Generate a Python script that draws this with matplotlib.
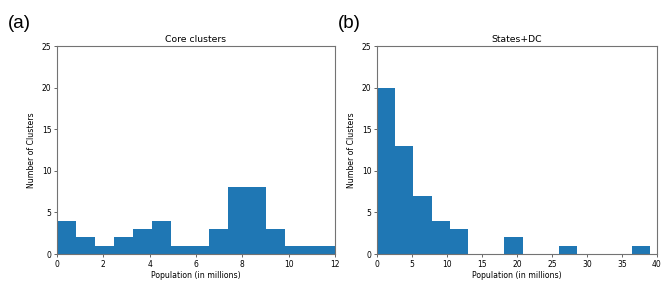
import matplotlib.pyplot as plt
import numpy as np

plt.rcParams['font.family'] = ['DejaVu Sans']

# Histogram counts (15 bins each)
core_counts = [4, 2, 1, 2, 3, 4, 1, 1, 3, 8, 8, 3, 1, 1, 1]
core_range = (0, 12.3)
states_counts = [20, 13, 7, 4, 3, 0, 0, 2, 0, 0, 1, 0, 0, 0, 1]
states_range = (0, 39.0)

core_edges = np.linspace(core_range[0], core_range[1], len(core_counts) + 1)
states_edges = np.linspace(states_range[0], states_range[1], len(states_counts) + 1)

fig = plt.figure(figsize=(6.69, 2.81), dpi=100)
ax1 = fig.add_axes([57/669, 1 - 254/281, 278/669, 208/281])
ax2 = fig.add_axes([377/669, 1 - 254/281, 280/669, 208/281])

ax1.hist(core_edges[:-1], bins=core_edges, weights=core_counts, color='#1f77b4')
ax1.set_xlim(0, 12)
ax1.set_xticks(range(0, 13, 2))
ax1.set_title("Core clusters", fontsize=6.7, pad=3)

ax2.hist(states_edges[:-1], bins=states_edges, weights=states_counts, color='#1f77b4')
ax2.set_xlim(0, 40)
ax2.set_xticks(range(0, 41, 5))
ax2.set_title("States+DC", fontsize=6.7, pad=3)

for ax in (ax1, ax2):
    ax.set_ylim(0, 25)
    ax.set_yticks(range(0, 26, 5))
    ax.set_xlabel("Population (in millions)", fontsize=5.6, labelpad=2)
    ax.set_ylabel("Number of Clusters", fontsize=5.6, labelpad=4)
    ax.tick_params(labelsize=5.5, length=2.5, width=0.6, pad=1.5, color='0.3')
    for s in ax.spines.values():
        s.set_color('0.45')
        s.set_linewidth(0.8)

fig.text(8/669, 1 - 24/281, "(a)", fontsize=13.5, va='center', family='Liberation Sans')
fig.text(338/669, 1 - 24/281, "(b)", fontsize=13.5, va='center', family='Liberation Sans')

fig.savefig("out.png", dpi=100)
